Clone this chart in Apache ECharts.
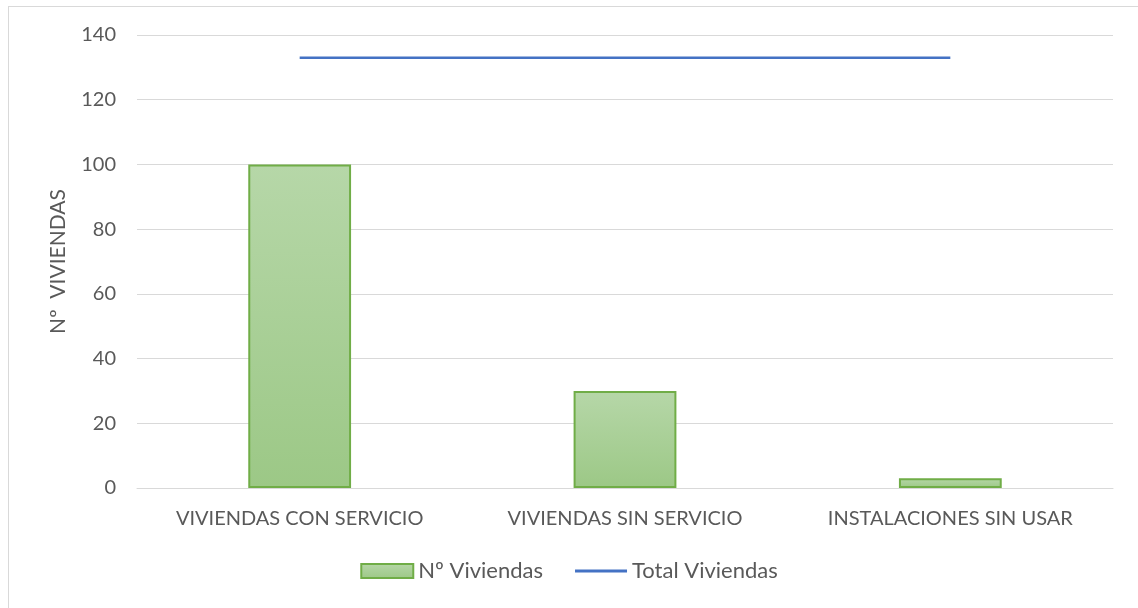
<!DOCTYPE html>
<html>
<head>
<meta charset="utf-8">
<script src="https://cdn.jsdelivr.net/npm/echarts@6/dist/echarts.min.js"></script>
<style>
  html, body { margin: 0; padding: 0; background: #fff; overflow: hidden; }
  #frame { position: absolute; left: 8px; top: 6px; width: 1140px; height: 620px; border: 1px solid #d9d9d9; }
  #main { position: absolute; left: 0; top: 0; width: 1138px; height: 608px; }
</style>
</head>
<body>
<div id="frame"></div>
<div id="main"></div>
<script>
  var categories = ['VIVIENDAS CON SERVICIO', 'VIVIENDAS SIN SERVICIO', 'INSTALACIONES SIN USAR'];
  var viviendas = [100, 30, 3];
  var totalViviendas = [133, 133, 133];
  var yTicks = { min: 0, max: 140, interval: 20 };

  var font = 'Lato, sans-serif';
  var chart = echarts.init(document.getElementById('main'));

  chart.setOption({
    animation: false,
    textStyle: { fontFamily: font },
    grid: { left: 137, right: 25, top: 35, bottom: 120, containLabel: false },
    legend: {
      bottom: 21,
      left: 'center',
      itemGap: 32,
      itemWidth: 52,
      itemHeight: 14,
      textStyle: { color: '#595959', fontSize: 22, fontFamily: font },
      data: [
        { name: 'Nº Viviendas', icon: 'rect' },
        { name: 'Total Viviendas', icon: 'path://M0,0H52V3H0Z', itemStyle: { color: '#4472c4' } }
      ]
    },
    xAxis: {
      type: 'category',
      data: categories,
      axisTick: { show: false },
      axisLine: { lineStyle: { color: '#d9d9d9', width: 1 } },
      axisLabel: { color: '#595959', fontSize: 20, margin: 21, fontFamily: font }
    },
    yAxis: {
      type: 'value',
      min: yTicks.min,
      max: yTicks.max,
      interval: yTicks.interval,
      name: 'Nº  VIVIENDAS',
      nameLocation: 'middle',
      nameGap: 68,
      nameTextStyle: { color: '#595959', fontSize: 21, fontFamily: font },
      axisLine: { show: false },
      axisTick: { show: false },
      axisLabel: { color: '#595959', fontSize: 20, margin: 21, fontFamily: font },
      splitLine: { lineStyle: { color: '#d9d9d9', width: 1 } }
    },
    series: [
      {
        name: 'Nº Viviendas',
        type: 'bar',
        data: viviendas,
        barWidth: '31.6%',
        itemStyle: {
          color: new echarts.graphic.LinearGradient(0, 0, 0, 1, [
            { offset: 0, color: '#b6d7a8' },
            { offset: 1, color: '#9cc886' }
          ]),
          borderColor: '#70ad47',
          borderWidth: 2
        }
      },
      {
        name: 'Total Viviendas',
        type: 'line',
        data: totalViviendas,
        showSymbol: false,
        symbol: 'none',
        lineStyle: { color: '#4472c4', width: 2.5 },
        itemStyle: { color: '#4472c4' }
      }
    ]
  });
</script>
</body>
</html>
